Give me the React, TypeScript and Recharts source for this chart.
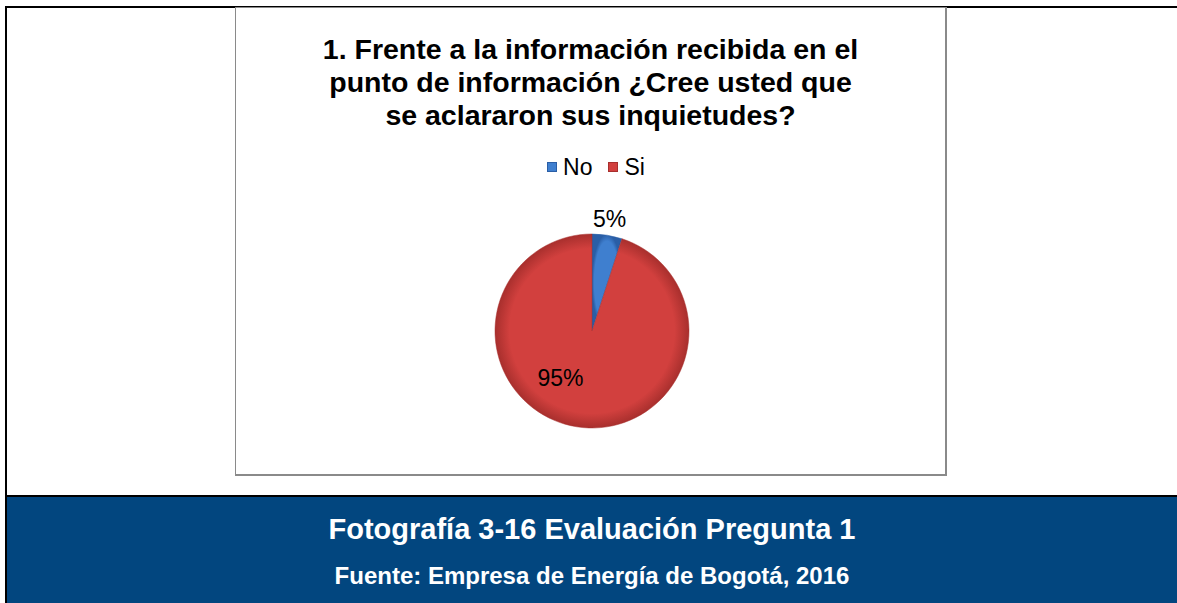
import React from "react";
import { Cell, Legend, Pie, PieChart } from "recharts";

const categories = ["No", "Si"];
const values = [5, 95];
const sliceColors = ["#3f7fcf", "#d2403e"];
const sliceEdges = ["#2a5ea6", "#a82f2d"];

const titleLines = [
  "1. Frente a la información recibida en el",
  "punto de información ¿Cree usted que",
  "se aclararon sus inquietudes?",
];
const captionTitle = "Fotografía 3-16 Evaluación Pregunta 1";
const captionSource = "Fuente: Empresa de Energía de Bogotá, 2016";

const data = categories.map((name, i) => ({ name, value: values[i] }));

const FONT = "Arial, 'Liberation Sans', sans-serif";
const RAD = Math.PI / 180;

function renderLabel(props: any) {
  const { cx, cy, midAngle, outerRadius, percent } = props;
  let r = outerRadius + 16;
  let angle = midAngle;
  if (percent > 0.5) {
    // larger slice: label sits inside, lower-left like the original best-fit placement
    r = outerRadius * 0.58;
    angle = midAngle - 25;
  }
  const x = cx + r * Math.cos(-angle * RAD);
  const y = cy + r * Math.sin(-angle * RAD);
  return (
    <text
      x={x}
      y={y}
      fill="#000"
      fontSize={23}
      fontFamily={FONT}
      textAnchor="middle"
      dominantBaseline="central"
    >
      {`${Math.round(percent * 100)}%`}
    </text>
  );
}

function LegendContent() {
  return (
    <div style={{ display: "flex", justifyContent: "center", alignItems: "center", paddingLeft: 11 }}>
      {categories.map((c, i) => (
        <div key={c} style={{ display: "flex", alignItems: "center", marginLeft: i ? 16 : 0 }}>
          <span
            style={{
              display: "inline-block",
              width: 10,
              height: 10,
              marginRight: 6,
              background: sliceColors[i],
              boxShadow: `inset 0 0 0 1px ${sliceEdges[i]}`,
            }}
          />
          <span style={{ color: "#000" }}>{c}</span>
        </div>
      ))}
    </div>
  );
}

export default function App() {
  return (
    <div
      style={{
        position: "absolute",
        left: 0,
        top: 0,
        width: 1177,
        height: 603,
        background: "#fff",
        overflow: "hidden",
        fontFamily: FONT,
      }}
    >
      {/* table frame */}
      <div style={{ position: "absolute", left: 5, top: 6, width: 1180, height: 2, background: "#000" }} />
      <div style={{ position: "absolute", left: 5, top: 6, width: 2, height: 600, background: "#000" }} />
      <div style={{ position: "absolute", left: 5, top: 495, width: 1180, height: 2, background: "#000" }} />
      <div style={{ position: "absolute", left: 7, top: 497, width: 1175, height: 110, background: "#02467f" }} />

      {/* chart box */}
      <div
        style={{
          position: "absolute",
          left: 235,
          top: 7,
          width: 709,
          height: 466,
          border: "1.5px solid #8a8a8a",
          borderRightWidth: 2,
          borderBottomWidth: 2,
          background: "#fff",
        }}
      >
        <div
          style={{
            position: "absolute",
            left: 0,
            top: 25,
            width: 709,
            textAlign: "center",
            fontWeight: "bold",
            fontSize: 28.5,
            lineHeight: "33px",
            color: "#000",
          }}
        >
          {titleLines.map((t) => (
            <div key={t}>{t}</div>
          ))}
        </div>
        <PieChart width={709} height={466} style={{ position: "absolute", left: 0, top: 0 }}>
          <defs>
            {sliceColors.map((c, i) => (
              <radialGradient key={c} id={`grad${i}`} cx="50%" cy="50%" r="50%">
                <stop offset="0%" stopColor={c} />
                <stop offset="85%" stopColor={c} />
                <stop offset="100%" stopColor={sliceEdges[i]} />
              </radialGradient>
            ))}
          </defs>
          <Legend
            verticalAlign="top"
            align="center"
            content={<LegendContent />}
            wrapperStyle={{ top: 146, fontSize: 23, fontFamily: FONT, lineHeight: "26px" }}
          />
          <Pie
            data={data}
            dataKey="value"
            nameKey="name"
            cx={351}
            cy={292}
            outerRadius={97}
            startAngle={90}
            endAngle={-270}
            stroke="#8a2a28"
            strokeWidth={0.5}
            label={renderLabel}
            labelLine={false}
            isAnimationActive={false}
          >
            {data.map((d, i) => (
              <Cell key={d.name} fill={`url(#grad${i})`} stroke={sliceEdges[i]} />
            ))}
          </Pie>
        </PieChart>
      </div>

      {/* caption */}
      <div
        style={{
          position: "absolute",
          left: 7,
          top: 512,
          width: 1170,
          textAlign: "center",
          color: "#fff",
          fontWeight: "bold",
          fontSize: 29,
          lineHeight: "34px",
        }}
      >
        {captionTitle}
      </div>
      <div
        style={{
          position: "absolute",
          left: 7,
          top: 562,
          width: 1170,
          textAlign: "center",
          color: "#fff",
          fontWeight: "bold",
          fontSize: 24,
          lineHeight: "28px",
        }}
      >
        {captionSource}
      </div>
    </div>
  );
}
